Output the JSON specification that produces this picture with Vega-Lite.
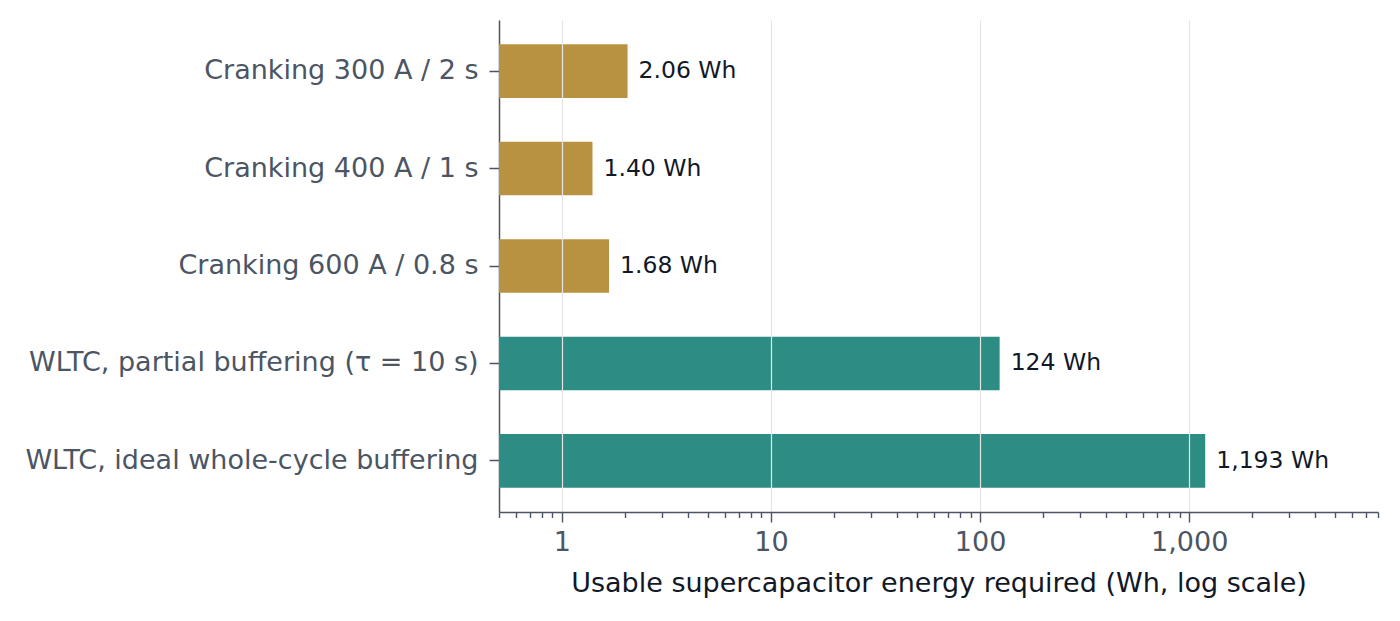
{
  "$schema": "https://vega.github.io/schema/vega-lite/v6.json",
  "autosize": {"type": "none"},
  "padding": {"left": 499, "top": 20, "right": 22, "bottom": 109},
  "width": 879,
  "height": 492,
  "background": "white",
  "config": {
    "view": {"stroke": null},
    "font": "DejaVu Sans"
  },
  "data": {
    "values": [
      {"scenario": "Cranking 300 A / 2 s", "energy": 2.06, "label": "2.06 Wh", "group": "crank"},
      {"scenario": "Cranking 400 A / 1 s", "energy": 1.40, "label": "1.40 Wh", "group": "crank"},
      {"scenario": "Cranking 600 A / 0.8 s", "energy": 1.68, "label": "1.68 Wh", "group": "crank"},
      {"scenario": "WLTC, partial buffering (τ = 10 s)", "energy": 124, "label": "124 Wh", "group": "wltc"},
      {"scenario": "WLTC, ideal whole-cycle buffering", "energy": 1193, "label": "1,193 Wh", "group": "wltc"}
    ]
  },
  "encoding": {
    "y": {
      "field": "scenario",
      "type": "nominal",
      "sort": null,
      "scale": {"paddingInner": 0.45, "paddingOuter": 0.25},
      "axis": {
        "title": null,
        "labelFont": "DejaVu Sans",
        "labelFontSize": 27,
        "labelColor": "#4b5563",
        "labelPadding": 11,
        "tickSize": 10,
        "tickWidth": 1.5,
        "tickColor": "#4b5563",
        "domainColor": "#4b5563",
        "domainWidth": 1.5,
        "labelLimit": 800
      }
    }
  },
  "layer": [
    {
      "mark": {"type": "bar"},
      "encoding": {
        "x": {
          "field": "energy",
          "type": "quantitative",
          "scale": {"type": "log", "domain": [0.5, 8000], "nice": false},
          "axis": {
            "title": "Usable supercapacitor energy required (Wh, log scale)",
            "titleFont": "DejaVu Sans",
            "titleFontSize": 27,
            "titleFontWeight": "normal",
            "titleColor": "#111827",
            "titlePadding": 15,
            "values": [0.5, 0.6, 0.7, 0.8, 0.9, 1, 2, 3, 4, 5, 6, 7, 8, 9, 10, 20, 30, 40, 50, 60, 70, 80, 90, 100, 200, 300, 400, 500, 600, 700, 800, 900, 1000, 2000, 3000, 4000, 5000, 6000, 7000, 8000],
            "labelExpr": "indexof([1, 10, 100, 1000], datum.value) >= 0 ? format(datum.value, ',') : ''",
            "labelFont": "DejaVu Sans",
            "labelFontSize": 27,
            "labelColor": "#4b5563",
            "labelPadding": 7,
            "labelFlush": false,
            "labelOverlap": false,
            "tickSize": {"condition": {"test": "indexof([1, 10, 100, 1000], datum.value) >= 0", "value": 10}, "value": 5.5},
            "tickWidth": 1.4,
            "tickColor": "#4b5563",
            "domainColor": "#4b5563",
            "domainWidth": 1.5,
            "grid": true,
            "gridColor": "#e4e4e4",
            "gridWidth": 1.2,
            "gridOpacity": {"condition": {"test": "indexof([1, 10, 100, 1000], datum.value) >= 0", "value": 1}, "value": 0},
            "zindex": 1
          }
        },
        "x2": {"datum": 0.5},
        "color": {
          "field": "group",
          "type": "nominal",
          "scale": {"domain": ["crank", "wltc"], "range": ["#b89240", "#2d8c83"]},
          "legend": null
        }
      }
    },
    {
      "mark": {"type": "text", "align": "left", "baseline": "middle", "dx": 11, "fontSize": 23.5, "font": "DejaVu Sans", "color": "#111827"},
      "encoding": {
        "x": {"field": "energy", "type": "quantitative"},
        "text": {"field": "label", "type": "nominal"}
      }
    }
  ]
}
